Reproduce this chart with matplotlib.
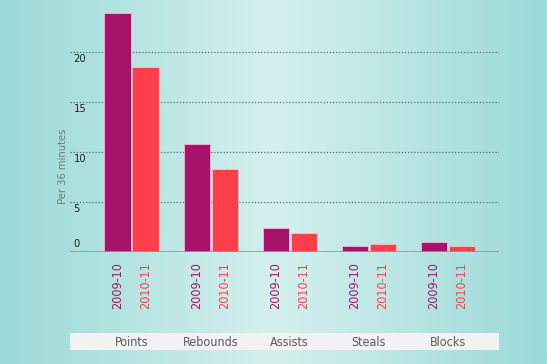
import matplotlib
matplotlib.use("Agg")
import matplotlib.pyplot as plt
import numpy as np
from matplotlib.colors import LinearSegmentedColormap

categories = ["Points", "Rebounds", "Assists", "Steals", "Blocks"]
seasons = ["2009-10", "2010-11"]
vals_0910 = [23.9, 10.8, 2.4, 0.6, 1.0]
vals_1011 = [18.5, 8.3, 1.9, 0.8, 0.6]
yticks = [0, 5, 10, 15, 20]

c_0910 = "#a8126a"
c_1011 = "#fe3f4b"
plt.rcParams["font.family"] = ["DejaVu Sans"]
plt.rcParams["font.stretch"] = "condensed"

W, H = 547, 364
fig = plt.figure(figsize=(W / 100, H / 100), dpi=100)

# background gradient
bg = fig.add_axes([0, 0, 1, 1])
cmap = LinearSegmentedColormap.from_list(
    "bg", [(0, "#9bdad7"), (0.5, "#d4f0ee"), (1, "#9bdad7")])
bg.imshow(np.linspace(0, 1, 256)[None, :], aspect="auto", cmap=cmap,
          extent=[0, 1, 0, 1])
bg.axis("off")

left, right = 70 / W, 499 / W
ax = fig.add_axes([left, 1 - 252 / H, right - left, 252 / H])
ax.patch.set_alpha(0)
for s in ax.spines.values():
    s.set_visible(False)

x = np.arange(len(categories))
off, bw = 0.177, 0.33
ax.bar(x - off, vals_0910, bw, color=c_0910, edgecolor="#f4b8cf", linewidth=0.6, zorder=3)
ax.bar(x + off, vals_1011, bw, color=c_1011, edgecolor="#ffc2c6", linewidth=0.6, zorder=3)
ax.set_xlim(-0.778, 4.646)
ax.set_ylim(0, 25.2)

for t in yticks[1:]:
    ax.axhline(t, color="#556b6b", linestyle=(0, (1, 1.5)), linewidth=0.9, zorder=1)
ax.axhline(0, color="#8a9a9a", linewidth=1.2, zorder=4)

ax.set_yticks([])
for t in yticks:
    if t == 0:
        ax.text(0.008, 0.8, str(t), transform=ax.get_yaxis_transform(),
                ha="left", va="center", fontsize=8, color="#222222")
    else:
        ax.text(0.008, t - 0.25, str(t), transform=ax.get_yaxis_transform(),
                ha="left", va="top", fontsize=8, color="#222222")

ax.text(-0.017, 0.34, "Per 36 minutes", transform=ax.transAxes,
        rotation=90, ha="center", va="center", fontsize=8, color="#6b7b7b")

pos = np.concatenate([x - off, x + off])
labs = [seasons[0]] * len(x) + [seasons[1]] * len(x)
ax.set_xticks(pos)
ax.set_xticklabels(labs, rotation=90, fontsize=9)
ax.tick_params(axis="x", length=0, pad=7)
for lab in ax.get_xticklabels():
    lab.set_color(c_0910 if lab.get_text() == seasons[0] else c_1011)

# category band
band = fig.add_axes([left, 1 - 350 / H, right - left, 17 / H])
band.set_facecolor("#f2f2f2")
band.set_xlim(ax.get_xlim())
band.set_ylim(0, 1)
band.set_xticks([])
band.set_yticks([])
for s in band.spines.values():
    s.set_visible(False)
for i, c in enumerate(categories):
    band.text(i, 0.45, c, ha="center", va="center", fontsize=9, color="#5a5a5a")

fig.savefig("out.png", dpi=100)
